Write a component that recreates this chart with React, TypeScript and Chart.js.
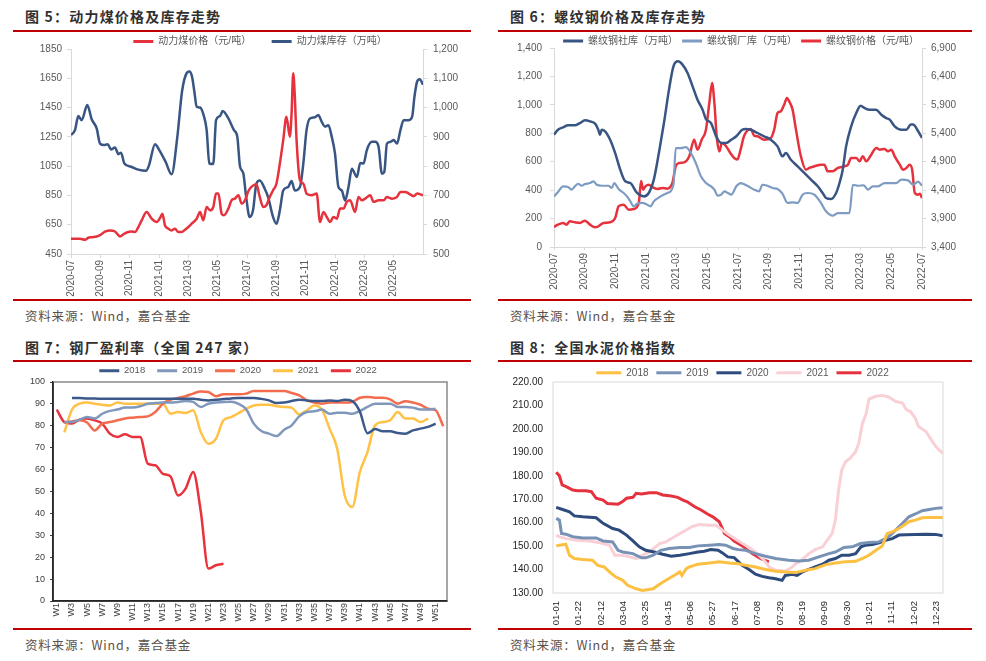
import React, { useEffect, useRef } from 'react';
import { Chart, registerables } from 'chart.js';

Chart.register(...registerables);

const FONT = "'Liberation Sans', 'Noto Sans CJK SC', sans-serif";
const CJK = "'Noto Sans CJK SC', 'Liberation Sans', sans-serif";
const TXT = '#595959';
const AXIS = '#d9d9d9';
const RED = '#E6323D';
const NAVY = '#385583';
const SKY = '#7E9BC2';

// ---------- 图5 动力煤 ----------
const coalTickLabels = ['2020-07', '2020-09', '2020-11', '2021-01', '2021-03', '2021-05', '2021-07', '2021-09', '2021-11', '2022-01', '2022-03', '2022-05'];
const coalPriceMonth = [0, 0.61, 0.95, 1.18, 1.41, 1.75, 1.98, 2.32, 2.66, 3.0, 3.34, 3.57, 3.8, 4.14, 4.36, 4.59, 4.82, 5.16, 5.5, 5.84, 6.11, 6.23, 6.41, 6.64, 6.86, 7.09, 7.32, 7.55, 7.77, 8.0, 8.23, 8.57, 8.8, 9.02, 9.25, 9.48, 9.7, 9.89, 10.05, 10.27, 10.43, 10.73, 10.95, 11.18, 11.41, 11.64, 11.86, 12.1, 12.3, 12.64, 12.87, 13.1, 13.32, 13.55, 13.78, 14.01, 14.24, 14.47, 14.69, 14.92, 15.04, 15.15, 15.26, 15.38, 15.61, 15.84, 16.06, 16.41, 16.75, 16.98, 17.21, 17.44, 17.67, 17.89, 18.12, 18.35, 18.58, 18.8, 19.03, 19.37, 19.6, 19.83, 20.06, 20.4, 20.63, 20.97, 21.32, 21.54, 21.89, 22.23, 22.46, 22.8, 23.03, 23.37, 23.6, 24.0];
const coalPrice = [554, 554, 547, 561, 565, 570, 579, 602, 611, 604, 570, 584, 597, 604, 600, 634, 680, 737, 691, 668, 703, 725, 645, 623, 611, 623, 600, 600, 616, 634, 657, 691, 737, 680, 771, 748, 771, 863, 863, 725, 714, 760, 817, 828, 851, 794, 817, 880, 908, 926, 840, 771, 783, 840, 885, 931, 1068, 1228, 1388, 1251, 1411, 1685, 1525, 1228, 954, 931, 863, 851, 863, 668, 737, 703, 668, 703, 691, 760, 760, 806, 817, 737, 840, 817, 828, 851, 806, 817, 817, 840, 828, 840, 874, 874, 863, 845, 863, 851];
const coalStockMonth = [0, 0.27, 0.5, 0.73, 1.11, 1.41, 1.75, 1.98, 2.25, 2.5, 2.73, 3.0, 3.23, 3.41, 3.64, 4.09, 4.59, 5.11, 5.32, 5.73, 6.02, 6.45, 6.86, 7.25, 7.57, 7.89, 8.07, 8.25, 8.41, 8.57, 8.8, 9.07, 9.25, 9.43, 9.7, 9.89, 10.16, 10.34, 10.73, 11.11, 11.34, 11.52, 11.75, 11.93, 12.18, 12.41, 12.64, 12.87, 13.21, 13.44, 13.78, 14.01, 14.24, 14.47, 14.81, 15.04, 15.26, 15.61, 15.84, 16.06, 16.29, 16.63, 16.86, 17.09, 17.32, 17.55, 17.78, 18.0, 18.23, 18.46, 18.69, 18.92, 19.15, 19.49, 19.72, 19.95, 20.17, 20.52, 20.74, 20.97, 21.2, 21.36, 21.54, 21.77, 22.0, 22.23, 22.46, 22.68, 23.03, 23.26, 23.42, 23.6, 23.78, 24.0];
const coalStock = [906, 923, 971, 957, 1009, 960, 929, 877, 872, 875, 857, 864, 841, 846, 809, 798, 788, 784, 803, 875, 855, 815, 772, 900, 1055, 1118, 1123, 1106, 1055, 1003, 1000, 969, 923, 809, 807, 957, 971, 988, 963, 923, 900, 800, 775, 700, 626, 649, 740, 751, 723, 694, 626, 603, 649, 717, 729, 749, 717, 729, 809, 923, 963, 967, 975, 952, 935, 940, 900, 843, 729, 717, 683, 729, 791, 763, 811, 809, 855, 883, 883, 866, 774, 780, 877, 883, 889, 877, 923, 957, 957, 969, 1038, 1089, 1097, 1078];

// ---------- 图6 螺纹钢 ----------
const rebarTickLabels = ['2020-07', '2020-09', '2020-11', '2021-01', '2021-03', '2021-05', '2021-07', '2021-09', '2021-11', '2022-01', '2022-03', '2022-05', '2022-07'];
const rebarSocialMonth = [0, 0.26, 0.59, 0.92, 1.36, 1.69, 2.02, 2.35, 2.68, 2.89, 3.0, 3.11, 3.33, 3.66, 3.99, 4.32, 4.65, 4.98, 5.42, 5.86, 6.18, 6.51, 6.84, 7.17, 7.5, 7.79, 8.09, 8.38, 8.71, 9.04, 9.36, 9.69, 9.91, 10.24, 10.57, 10.9, 11.23, 11.56, 11.89, 12.28, 12.5, 12.83, 13.27, 13.7, 14.14, 14.58, 14.9, 15.12, 15.45, 15.89, 16.32, 16.76, 17.2, 17.52, 17.74, 18.07, 18.4, 18.62, 18.83, 19.05, 19.38, 19.71, 20.0, 20.25, 20.58, 21.0, 21.35, 21.67, 21.89, 22.22, 22.66, 22.98, 23.27, 23.42, 23.75, 24.0];
const rebarSocial = [790, 825, 842, 856, 856, 872, 891, 884, 868, 825, 790, 825, 814, 755, 661, 544, 462, 450, 380, 356, 380, 474, 661, 872, 1107, 1271, 1306, 1283, 1224, 1130, 1036, 966, 900, 872, 779, 732, 732, 755, 779, 825, 830, 825, 802, 779, 755, 708, 638, 661, 614, 567, 521, 474, 427, 380, 345, 338, 380, 450, 544, 708, 849, 943, 994, 978, 966, 966, 931, 907, 896, 849, 825, 825, 861, 861, 814, 767];
const rebarMillMonth = [0, 0.26, 0.59, 0.92, 1.14, 1.36, 1.58, 1.8, 2.02, 2.35, 2.57, 2.79, 3.11, 3.55, 3.77, 3.93, 4.21, 4.54, 4.76, 4.98, 5.2, 5.42, 5.75, 6.07, 6.29, 6.51, 6.95, 7.39, 7.79, 7.94, 8.27, 8.6, 8.93, 9.25, 9.58, 9.91, 10.24, 10.46, 10.68, 10.9, 11.12, 11.34, 11.56, 11.89, 12.17, 12.61, 13.05, 13.38, 13.59, 13.92, 14.25, 14.58, 14.9, 15.23, 15.56, 15.89, 16.21, 16.54, 16.98, 17.41, 17.74, 18.18, 18.51, 18.94, 19.27, 19.49, 19.82, 20.21, 20.47, 20.8, 21.13, 21.56, 22.0, 22.33, 22.66, 23.09, 23.42, 23.75, 24.0];
const rebarMill = [356, 387, 427, 422, 403, 427, 445, 431, 443, 450, 462, 438, 431, 431, 415, 450, 408, 380, 356, 321, 286, 305, 310, 298, 286, 321, 356, 380, 438, 696, 696, 703, 661, 591, 497, 450, 427, 403, 361, 368, 392, 380, 368, 427, 450, 431, 403, 392, 438, 431, 415, 408, 375, 310, 314, 310, 368, 380, 368, 310, 251, 220, 239, 239, 239, 438, 431, 434, 403, 427, 427, 450, 450, 450, 474, 469, 438, 460, 431];
const rebarPriceMonth = [0, 0.26, 0.59, 0.81, 1.03, 1.36, 1.69, 2.02, 2.35, 2.68, 2.89, 3.22, 3.66, 3.99, 4.21, 4.54, 4.87, 5.2, 5.53, 5.68, 5.81, 5.96, 6.18, 6.4, 6.73, 7.06, 7.39, 7.72, 7.94, 8.16, 8.49, 8.82, 9.14, 9.36, 9.63, 9.91, 10.13, 10.31, 10.46, 10.61, 10.79, 10.94, 11.2, 11.5, 11.75, 11.96, 12.17, 12.39, 12.83, 13.05, 13.27, 13.7, 14.14, 14.36, 14.58, 14.79, 15.01, 15.19, 15.34, 15.56, 15.78, 16.1, 16.43, 16.65, 16.98, 17.41, 17.63, 17.85, 18.18, 18.51, 18.94, 19.17, 19.38, 19.71, 19.93, 20.14, 20.36, 20.69, 21.02, 21.24, 21.56, 21.78, 22.0, 22.22, 22.55, 22.77, 22.98, 23.2, 23.36, 23.53, 23.75, 23.86, 24.0];
const rebarPrice = [3752, 3793, 3822, 3793, 3851, 3834, 3822, 3863, 3793, 3746, 3764, 3822, 3834, 3910, 4115, 4145, 4057, 4068, 4174, 4560, 4408, 4467, 4496, 4455, 4420, 4438, 4426, 4526, 4819, 4877, 4889, 4995, 5288, 5112, 5288, 5464, 5933, 6285, 5933, 5347, 5083, 5229, 5180, 5053, 4965, 4940, 5112, 5347, 5475, 5358, 5347, 5288, 5317, 5464, 5757, 5786, 5903, 6021, 5962, 5816, 5464, 4995, 4760, 4790, 4819, 4848, 4848, 4731, 4731, 4790, 4819, 4848, 4965, 4965, 4907, 4995, 4907, 5024, 5141, 5112, 5124, 5083, 5112, 4995, 4848, 4760, 4790, 4848, 4760, 4350, 4320, 4338, 4262];

// ---------- 图7 钢厂盈利率 ----------
const weekLabels = Array.from({ length: 52 }, (_, i) => `W${i + 1}`);
const profit2018 = [null, null, 92.7, 92.7, 92.5, 92.5, 92.3, 92.3, 92.3, 92.3, 92.3, 92.3, 92.3, 92.3, 92.3, 92.3, 92.3, 92.3, 92.3, 91.9, 91.6, 91.9, 92.2, 92.5, 92.7, 92.7, 92.7, 92.3, 91.6, 90.4, 90.6, 91.3, 91.9, 91.6, 91.3, 91.3, 91.6, 91.3, 91.9, 91.3, 86.5, 76.6, 78.5, 77.5, 77.5, 76.7, 76.4, 77.9, 78.7, 79.5, 81.0, null];
const profit2019 = [null, 81.7, 81.7, 82.8, 84.0, 83.3, 85.5, 86.8, 87.4, 88.3, 88.3, 88.9, 90.1, 90.4, 90.6, 90.6, 90.9, 91.3, 90.9, 88.6, 90.1, 90.6, 90.9, 91.0, 90.0, 87.5, 81.0, 77.6, 76.4, 75.3, 78.2, 80.2, 84.3, 86.3, 86.6, 87.4, 85.5, 86.0, 86.0, 85.5, 86.8, 88.6, 90.1, 90.1, 90.1, 88.6, 88.6, 88.3, 87.4, 87.4, 87.8, null];
const profit2020 = [null, 81.5, 82.0, 82.5, 81.5, 77.9, 81.0, 81.7, 82.5, 83.3, 83.7, 84.0, 84.3, 86.3, 90.1, 91.9, 92.7, 93.5, 94.7, 95.7, 95.4, 93.5, 94.4, 94.4, 94.4, 94.7, 95.9, 95.9, 95.9, 95.9, 95.9, 95.0, 93.9, 91.6, 90.6, 90.1, 90.6, 90.6, 90.6, 90.9, 92.8, 93.2, 92.8, 92.8, 92.1, 90.1, 91.2, 90.6, 89.6, 87.8, 87.1, 79.8];
const profit2021 = [null, 77.0, 87.4, 90.1, 90.6, 90.1, 89.6, 89.3, 90.6, 90.1, 90.1, 90.1, 90.1, 90.1, 90.1, 85.5, 86.3, 85.8, 87.1, 77.2, 71.8, 74.1, 82.5, 84.0, 85.8, 87.8, 89.3, 89.6, 89.6, 89.0, 88.6, 88.3, 85.2, 87.1, 89.3, 87.4, 78.7, 69.6, 48.2, 42.9, 58.9, 68.0, 80.2, 81.7, 82.5, 86.3, 83.3, 83.3, 81.7, 83.3, null, null];
const profit2022 = [87.4, 81.7, 81.0, 82.8, 83.3, 82.5, 81.0, 76.4, 74.9, 76.1, 74.9, 74.9, 62.7, 62.0, 58.1, 56.9, 48.2, 51.3, 58.9, 41.0, 14.8, 16.3, 17.0];

// ---------- 图8 水泥价格指数 ----------
const cementTickDays = [0, 21, 42, 63, 84, 105, 126, 147, 168, 189, 210, 231, 252, 273, 294, 315, 336, 357];
const cementTickLabels = ['01-01', '01-22', '02-12', '03-04', '03-25', '04-15', '05-06', '05-27', '06-17', '07-08', '07-29', '08-19', '09-09', '09-30', '10-21', '11-11', '12-02', '12-23'];
const cement2018Day = [0, 3, 9, 12.5, 17, 25, 34, 39, 45, 50, 56, 62.5, 67, 75, 81, 91, 97, 103, 112.5, 116, 118, 122, 125, 133, 144, 153, 162.5, 171, 177.7, 187, 196.5, 206, 215, 224.6, 234, 243, 253, 262, 271.5, 281, 287, 293.5, 300, 306, 310.6, 315.3, 321.6, 326.3, 331, 337, 343.5, 350, 356, 363];
const cement2018 = [150.1, 150.4, 150.8, 146.1, 144.7, 144.3, 144.0, 141.8, 141.1, 139.0, 136.8, 135.4, 133.3, 131.8, 131.1, 131.8, 133.7, 135.4, 138.0, 139.0, 137.5, 140.4, 141.1, 142.3, 142.8, 143.3, 142.8, 142.5, 141.8, 141.1, 140.0, 139.3, 139.0, 138.7, 139.7, 140.4, 142.1, 142.8, 143.3, 143.5, 144.7, 146.1, 148.2, 150.0, 155.4, 156.1, 157.5, 158.9, 160.4, 161.1, 162.1, 162.2, 162.2, 162.2];
const cement2019Day = [0, 3, 5, 9, 15.6, 25, 37.5, 44, 53, 58, 62.5, 72, 80, 84, 91, 98, 106, 116, 125, 133, 144, 153, 159, 166, 171, 177.7, 187, 196.5, 206, 218, 227.7, 237, 246.5, 256, 262, 270, 277.8, 285.6, 293.5, 303, 312, 318.5, 325, 331, 337, 343.5, 350, 356, 363];
const cement2019 = [161.8, 161.1, 155.4, 155.1, 154.0, 153.5, 153.5, 152.2, 151.8, 148.2, 147.5, 146.8, 145.0, 145.0, 146.1, 148.2, 149.0, 149.4, 149.4, 150.1, 150.4, 150.7, 150.4, 149.0, 148.5, 148.2, 146.8, 145.7, 144.7, 144.0, 143.7, 144.0, 145.4, 146.8, 147.5, 149.4, 149.7, 151.1, 151.5, 151.8, 154.0, 156.8, 159.7, 162.5, 163.7, 165.1, 165.6, 166.1, 166.4];
const cement2020Day = [0, 6, 12.5, 17, 25, 37.5, 44, 53, 59, 66, 72, 78, 84, 92, 100, 108, 116, 125, 133, 139, 145, 152, 156, 161, 167, 174.6, 181, 187, 193.3, 199.6, 206, 212, 215, 221.5, 226, 231, 237, 243, 250, 256, 262, 268, 275, 281, 286, 290.3, 296.6, 303, 309, 315.3, 321.6, 328, 337, 347, 356, 363];
const cement2020 = [166.5, 165.6, 164.6, 162.9, 162.5, 162.1, 159.7, 157.5, 156.8, 154.7, 152.2, 149.7, 148.2, 147.5, 146.5, 145.7, 146.1, 146.8, 147.5, 147.8, 148.5, 148.2, 147.1, 145.4, 145.1, 141.8, 140.0, 138.0, 137.1, 136.5, 136.1, 135.4, 137.5, 138.0, 137.5, 139.0, 140.1, 141.1, 142.3, 144.0, 144.7, 146.1, 146.1, 146.8, 149.7, 150.4, 150.7, 151.4, 152.5, 153.2, 154.7, 154.8, 155.0, 155.1, 155.0, 154.4];
const cement2021Day = [0, 3, 9, 19, 31, 41, 50, 55, 62.5, 69, 75, 81, 87.5, 97, 103, 111, 119, 127, 134, 144, 150, 156, 162.5, 170, 177.7, 187, 195, 200, 206, 215, 221.5, 225, 231, 237, 243, 250, 254.3, 259, 262, 265, 268, 271.5, 276, 281, 284, 287, 291, 293.5, 300, 306, 312, 318.5, 325, 328.5, 332.5, 337, 340, 347, 353, 357.6, 363];
const cement2021 = [154.7, 154.0, 153.2, 152.5, 152.2, 151.4, 150.4, 146.1, 146.1, 145.4, 144.7, 146.1, 147.5, 151.1, 151.8, 154.0, 156.1, 158.2, 159.2, 158.9, 158.9, 156.8, 154.7, 152.5, 150.4, 147.5, 144.0, 141.1, 139.7, 139.4, 141.1, 142.5, 144.3, 146.8, 148.5, 149.7, 152.5, 155.4, 161.1, 173.9, 182.5, 186.0, 187.5, 190.3, 193.9, 201.7, 206.7, 212.7, 213.9, 214.2, 213.6, 211.7, 211.0, 208.2, 207.4, 204.6, 201.0, 198.9, 194.6, 191.8, 189.6];
const cement2022Day = [0, 3, 5.6, 9.4, 15.6, 20, 28, 33, 37.5, 44, 48, 58, 62, 66, 72, 75, 80, 87.5, 94, 100, 108, 114, 119, 123, 130, 136, 142, 147, 153, 158, 162.5, 167, 176, 184, 192, 199.6];
const cement2022 = [181.5, 180.0, 176.1, 175.4, 173.9, 173.6, 173.6, 173.2, 170.4, 169.6, 168.2, 167.9, 168.9, 170.4, 170.8, 172.5, 172.2, 172.8, 172.8, 171.8, 171.4, 170.8, 169.6, 168.9, 166.8, 165.4, 163.7, 162.5, 160.4, 155.4, 154.0, 152.2, 149.7, 146.8, 144.7, 143.3];

const pts = (xs: number[], ys: number[]) => xs.map((x, i) => ({ x, y: ys[i] }));

const legend = (padding: number, maxHeight: number, size: number, boxWidth: number) => ({
  display: true,
  position: 'top',
  align: 'center',
  maxHeight,
  labels: {
    boxWidth,
    boxHeight: 3,
    padding,
    color: TXT,
    font: { family: FONT, size },
    generateLabels: (chart: any) =>
      (Chart as any).defaults.plugins.legend.labels.generateLabels(chart).map((l: any) => ({ ...l, lineWidth: 0 })),
  },
});

const shiftLegend = (dx: number) => ({
  id: 'shiftLegend',
  afterLayout(chart: any) {
    if (chart.legend) {
      chart.legend.left += dx;
      chart.legend.right += dx;
    }
  },
});

const line = (label: string, data: any, color: string, width: number, extra: any = {}) => ({
  label,
  data,
  borderColor: color,
  backgroundColor: color,
  borderWidth: width,
  pointRadius: 0,
  fill: false,
  ...extra,
});

const frame = (top: string, side: string, width: number) => ({
  id: 'frame',
  afterDatasetsDraw(chart: any) {
    const { ctx, chartArea: a } = chart;
    ctx.save();
    ctx.lineWidth = width;
    ctx.strokeStyle = top;
    ctx.beginPath();
    ctx.moveTo(a.left, a.top);
    ctx.lineTo(a.right, a.top);
    ctx.lineTo(a.right, a.bottom);
    ctx.stroke();
    ctx.strokeStyle = side;
    ctx.beginPath();
    ctx.moveTo(a.left, a.top);
    ctx.lineTo(a.left, a.bottom);
    ctx.lineTo(a.right, a.bottom);
    ctx.stroke();
    ctx.restore();
  },
});

const coalConfig = () => ({
  type: 'line',
  data: {
    datasets: [
      line('动力煤价格（元/吨）', pts(coalPriceMonth, coalPrice), RED, 2.5, { yAxisID: 'y', cubicInterpolationMode: 'monotone' }),
      line('动力煤库存（万吨）', pts(coalStockMonth, coalStock), NAVY, 2.5, { yAxisID: 'y1', cubicInterpolationMode: 'monotone' }),
    ],
  },
  options: {
    responsive: false,
    animation: false,
    devicePixelRatio: 1,
    layout: { padding: 0 },
    plugins: { legend: legend(20.5, 33, 10, 20), tooltip: { enabled: false } },
    scales: {
      x: {
        type: 'linear', min: 0, max: 24,
        afterFit: (s: any) => { s.height = 44; },
        ticks: { stepSize: 2, autoSkip: false, minRotation: 90, maxRotation: 90, padding: 2, color: TXT, font: { family: FONT, size: 10 },
          callback: (v: number) => coalTickLabels[Math.round(v / 2)] },
        grid: { display: true, drawOnChartArea: false, drawTicks: true, tickLength: 4, color: AXIS },
        border: { display: true, color: AXIS },
      },
      y: {
        position: 'left', min: 450, max: 1850,
        afterFit: (s: any) => { s.width = 58; },
        ticks: { stepSize: 200, padding: 5, color: TXT, font: { family: FONT, size: 10 }, callback: (v: number) => String(v) },
        grid: { display: true, drawOnChartArea: false, drawTicks: true, tickLength: 4, color: AXIS },
        border: { display: true, color: AXIS },
      },
      y1: {
        position: 'right', min: 500, max: 1200,
        afterFit: (s: any) => { s.width = 48; },
        ticks: { stepSize: 100, padding: 6, color: TXT, font: { family: FONT, size: 10 }, callback: (v: number) => v.toLocaleString('en-US') },
        grid: { display: true, drawOnChartArea: false, drawTicks: true, tickLength: 4, color: AXIS },
        border: { display: true, color: AXIS },
      },
    },
  },
  plugins: [shiftLegend(18)],
});

const rebarConfig = () => ({
  type: 'line',
  data: {
    datasets: [
      line('螺纹钢社库（万吨）', pts(rebarSocialMonth, rebarSocial), NAVY, 2.5, { yAxisID: 'y', cubicInterpolationMode: 'monotone' }),
      line('螺纹钢厂库（万吨）', pts(rebarMillMonth, rebarMill), SKY, 2.2, { yAxisID: 'y', cubicInterpolationMode: 'monotone' }),
      line('螺纹钢价格（元/吨）', pts(rebarPriceMonth, rebarPrice), RED, 2.5, { yAxisID: 'y1', cubicInterpolationMode: 'monotone' }),
    ],
  },
  options: {
    responsive: false,
    animation: false,
    devicePixelRatio: 1,
    layout: { padding: 0 },
    plugins: { legend: legend(4, 16, 10, 20), tooltip: { enabled: false } },
    scales: {
      x: {
        type: 'linear', min: 0, max: 24,
        afterFit: (s: any) => { s.height = 51; },
        ticks: { stepSize: 2, autoSkip: false, minRotation: 90, maxRotation: 90, padding: 3, color: TXT, font: { family: FONT, size: 10 },
          callback: (v: number) => rebarTickLabels[Math.round(v / 2)] },
        grid: { display: true, drawOnChartArea: false, drawTicks: true, tickLength: 3, color: AXIS },
        border: { display: true, color: AXIS },
      },
      y: {
        position: 'left', min: 0, max: 1400,
        afterFit: (s: any) => { s.width = 56; },
        ticks: { stepSize: 200, padding: 8, color: TXT, font: { family: FONT, size: 10 }, callback: (v: number) => v.toLocaleString('en-US') },
        grid: { display: true, drawOnChartArea: false, drawTicks: true, tickLength: 4, color: AXIS },
        border: { display: true, color: AXIS },
      },
      y1: {
        position: 'right', min: 3400, max: 6900,
        afterFit: (s: any) => { s.width = 50; },
        ticks: { stepSize: 500, padding: 5, color: TXT, font: { family: FONT, size: 10 }, callback: (v: number) => v.toLocaleString('en-US') },
        grid: { display: true, drawOnChartArea: false, drawTicks: true, tickLength: 4, color: AXIS },
        border: { display: true, color: AXIS },
      },
    },
  },
  plugins: [shiftLegend(6)],
});

const profitConfig = () => ({
  type: 'line',
  data: {
    labels: weekLabels,
    datasets: [
      line('2018', profit2018, '#3B5A8B', 2.5, { cubicInterpolationMode: 'monotone' }),
      line('2019', profit2019, '#7F98BC', 2.5, { cubicInterpolationMode: 'monotone' }),
      line('2020', profit2020, '#F26C4D', 2.5, { cubicInterpolationMode: 'monotone' }),
      line('2021', profit2021, '#FFC247', 2.5, { cubicInterpolationMode: 'monotone' }),
      line('2022', profit2022, '#E8323C', 2.5, { cubicInterpolationMode: 'monotone' }),
    ],
  },
  options: {
    responsive: false,
    animation: false,
    devicePixelRatio: 1,
    layout: { padding: { right: 24 } },
    plugins: { legend: legend(12, 28, 9.5, 20), tooltip: { enabled: false } },
    scales: {
      x: {
        type: 'category', offset: true,
        afterFit: (s: any) => { s.height = 27; },
        ticks: { autoSkip: false, minRotation: 90, maxRotation: 90, padding: 2, color: '#404040', font: { family: FONT, size: 9 },
          callback: (_v: any, i: number) => (i % 2 === 0 ? weekLabels[i] : null) },
        grid: { display: false, drawTicks: false },
        border: { display: true, color: '#262626', width: 1.5 },
      },
      y: {
        min: 0, max: 100,
        afterFit: (s: any) => { s.width = 40; },
        ticks: { stepSize: 10, padding: 5, color: '#404040', font: { family: FONT, size: 9 } },
        grid: { display: true, drawOnChartArea: false, drawTicks: true, tickLength: 3, color: '#404040' },
        border: { display: true, color: '#262626', width: 1.5 },
      },
    },
  },
  plugins: [frame('#8a8a8a', '#262626', 1.5), shiftLegend(8)],
});

const cementConfig = () => ({
  type: 'line',
  data: {
    datasets: [
      line('2018', pts(cement2018Day, cement2018), '#FCC042', 3),
      line('2019', pts(cement2019Day, cement2019), '#7892B6', 3),
      line('2020', pts(cement2020Day, cement2020), '#2E4B7D', 3),
      line('2021', pts(cement2021Day, cement2021), '#F9D0D6', 3),
      line('2022', pts(cement2022Day, cement2022), '#E5323E', 3),
    ],
  },
  options: {
    responsive: false,
    animation: false,
    devicePixelRatio: 1,
    layout: { padding: { right: 29 } },
    plugins: { legend: legend(7.8, 22, 10, 25), tooltip: { enabled: false } },
    scales: {
      x: {
        type: 'linear', min: -3, max: 363,
        afterFit: (s: any) => { s.height = 47; },
        afterBuildTicks: (s: any) => { s.ticks = cementTickDays.map((v) => ({ value: v })); },
        ticks: { autoSkip: false, minRotation: 90, maxRotation: 90, padding: 8, color: '#262626', font: { family: FONT, size: 9.5 },
          callback: (_v: any, i: number) => cementTickLabels[i] },
        grid: { display: false, drawTicks: false },
        border: { display: false },
      },
      y: {
        min: 130, max: 220,
        afterFit: (s: any) => { s.width = 55; },
        ticks: { stepSize: 10, padding: 10, color: '#262626', font: { family: FONT, size: 10 }, callback: (v: number) => v.toFixed(2) },
        grid: { display: false, drawTicks: false },
        border: { display: false },
      },
    },
  },
  plugins: [frame('#d9d9d9', '#d9d9d9', 1), shiftLegend(22)],
});

function ChartBox({ make, left, top, width, height }: any) {
  const ref = useRef<HTMLCanvasElement>(null);
  useEffect(() => {
    const c = new Chart(ref.current as HTMLCanvasElement, make());
    return () => c.destroy();
  }, []);
  return <canvas ref={ref} width={width} height={height} style={{ position: 'absolute', left, top, width, height }} />;
}

const Title = ({ left, top, text }: any) => (
  <div style={{ position: 'absolute', left, top, height: 20, lineHeight: '20px', fontFamily: CJK, fontWeight: 700, fontSize: 14, letterSpacing: 1.2, color: '#303030', whiteSpace: 'nowrap' }}>{text}</div>
);
const Source = ({ left, top }: any) => (
  <div style={{ position: 'absolute', left, top, height: 18, lineHeight: '18px', fontFamily: CJK, fontSize: 12.5, letterSpacing: 0.8, color: '#5b5048', whiteSpace: 'nowrap' }}>资料来源：Wind，嘉合基金</div>
);
const Rule = ({ left, top, width }: any) => (
  <div style={{ position: 'absolute', left, top, width, height: 2, background: '#C00000' }} />
);

export default function App() {
  return (
    <div style={{ position: 'fixed', left: 0, top: 0, width: 986, height: 661, background: '#fff', overflow: 'hidden' }}>
      <Title left={25} top={6} text="图 5：动力煤价格及库存走势" />
      <Title left={510} top={6} text="图 6：螺纹钢价格及库存走势" />
      <Rule left={13} top={29.5} width={458} />
      <Rule left={498} top={29.5} width={474} />
      <Rule left={13} top={299} width={458} />
      <Rule left={498} top={299} width={474} />
      <Source left={25} top={307} />
      <Source left={510} top={307} />
      <Title left={25} top={337} text="图 7：钢厂盈利率（全国 247 家）" />
      <Title left={510} top={337} text="图 8：全国水泥价格指数" />
      <Rule left={13} top={360} width={458} />
      <Rule left={498} top={360} width={474} />
      <Rule left={13} top={628} width={458} />
      <Rule left={498} top={628} width={474} />
      <Source left={25} top={636} />
      <Source left={510} top={636} />
      <ChartBox make={coalConfig} left={13} top={16} width={458} height={282} />
      <ChartBox make={rebarConfig} left={498} top={32} width={474} height={266} />
      <ChartBox make={profitConfig} left={13} top={354} width={458} height={274} />
      <ChartBox make={cementConfig} left={498} top={360} width={474} height={280} />
    </div>
  );
}
